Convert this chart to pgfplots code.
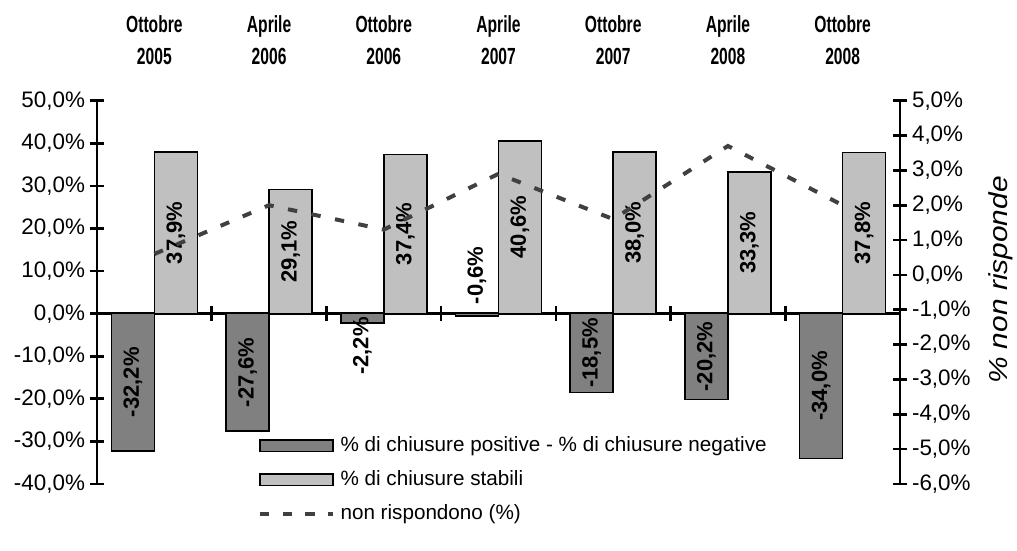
\documentclass[border=0pt]{standalone}
\usepackage{fontspec}
\setmainfont{Liberation Sans}
\newfontfamily\catfont[FakeStretch=0.67]{Liberation Sans}
\newfontfamily\rlabfont[FakeStretch=1.15]{Liberation Sans}
\usepackage{pgfplots}
\pgfplotsset{compat=1.18}
\usepackage{pgfplotstable}
\definecolor{darkbar}{HTML}{808080}
\definecolor{lightbar}{HTML}{C0C0C0}
\definecolor{nrline}{HTML}{404040}
\pgfplotsset{
  barlegend/.style={legend image code/.code={\draw[##1, line width=1.2pt] (0pt,-4.25pt) rectangle (55pt,4.25pt);}},
  linelegend/.style={legend image code/.code={\draw[##1] (0pt,0pt) -- (55pt,0pt);}},
}

\pgfplotstableread{
x neg pos nr ny py
0 -32.2 37.9 0.6 -16.1 18.95
1 -27.6 29.1 2.0 -13.8 14.55
2 -2.2 37.4 1.3 -7.6 18.7
3 -0.6 40.6 2.9 9.0 20.3
4 -18.5 38.0 1.6 -9.25 19.0
5 -20.2 33.3 3.7 -10.1 16.65
6 -34.0 37.8 2.0 -17.0 18.9
}\data

\begin{document}
\begin{tikzpicture}
\pgfplotsset{
  every axis/.append style={
    scale only axis, width=602.25pt, height=287.5pt, xmin=-0.5, xmax=6.5,
    every outer x axis line/.append style={-},
    every outer y axis line/.append style={-},
    every inner x axis line/.append style={-},
    every inner y axis line/.append style={-},
    axis line style={line width=2pt, black},
    tick style={line width=2pt, black},
    tick align=center, major tick length=11pt,
    yticklabel style={font=\fontsize{16.8}{19}\selectfont},
  }
}
\begin{axis}[name=A, ymin=-40, ymax=50, clip=false,
  axis y line*=left, axis x line*=middle,
  xtick={0.5,1.5,...,5.5}, xticklabels={},
  ytick={-40,-30,...,50},
  yticklabels={{-40,0\%},{-30,0\%},{-20,0\%},{-10,0\%},{0,0\%},{10,0\%},{20,0\%},{30,0\%},{40,0\%},{50,0\%}},
  legend style={at={(rel axis cs:0.195,0.135)}, anchor=north west, draw=none, fill=none,
    font=\fontsize{15.5}{18}\selectfont, row sep=9.5pt,
    nodes={inner sep=1pt, text height=11pt, text depth=3pt},
    /tikz/every odd column/.append style={column sep=3pt}},
  legend cell align=left,
]
\addplot[ybar, bar width=32.25pt, bar shift=-16.125pt, fill=darkbar, draw=black, line width=1.2pt, barlegend]
  table[x=x,y=neg]{\data};
\addlegendentry{\% di chiusure positive - \% di chiusure negative}
\addplot[ybar, bar width=32.25pt, bar shift=16.125pt, fill=lightbar, draw=black, line width=1.2pt, barlegend]
  table[x=x,y=pos]{\data};
\addlegendentry{\% di chiusure stabili}
\addlegendimage{nrline, line width=3pt, dash pattern=on 7pt off 10pt, linelegend}
\addlegendentry{non rispondono (\%)}
\addplot[only marks, mark=none, forget plot, point meta=explicit,
  nodes near coords={\pgfmathprintnumber[fixed,fixed zerofill,precision=1,use comma,assume math mode=true]{\pgfplotspointmeta}\%},
  nodes near coords style={rotate=90, anchor=center, font=\fontsize{16.5}{19}\selectfont\bfseries, inner sep=0pt}]
  table[x expr=\thisrow{x}-0.1875, y=ny, meta=neg]{\data};
\addplot[only marks, mark=none, forget plot, point meta=explicit,
  nodes near coords={\pgfmathprintnumber[fixed,fixed zerofill,precision=1,use comma,assume math mode=true]{\pgfplotspointmeta}\%},
  nodes near coords style={rotate=90, anchor=center, font=\fontsize{16.5}{19}\selectfont\bfseries, inner sep=0pt}]
  table[x expr=\thisrow{x}+0.1875, y=py, meta=pos]{\data};
\end{axis}
\begin{axis}[ymin=-6, ymax=5,
  axis y line*=right, axis x line*=top,
  x axis line style={draw=none}, major x tick style={draw=none},
  xtick={0,...,6},
  xticklabels={{Ottobre\\2005},{Aprile\\2006},{Ottobre\\2006},{Aprile\\2007},{Ottobre\\2007},{Aprile\\2008},{Ottobre\\2008}},
  xticklabel style={align=center, font=\catfont\bfseries\fontsize{17.5}{24}\selectfont},
  xticklabel shift=18pt,
  ytick={-6,...,5},
  yticklabels={{-6,0\%},{-5,0\%},{-4,0\%},{-3,0\%},{-2,0\%},{-1,0\%},{0,0\%},{1,0\%},{2,0\%},{3,0\%},{4,0\%},{5,0\%}},
  ylabel={\rlabfont\itshape\fontsize{19.5}{23}\selectfont\% non risponde},
  ylabel style={at={(axis description cs:1.126,0.532)}, anchor=center, inner sep=0pt},
]
\addplot[nrline, line width=3pt, dash pattern=on 7pt off 11pt] table[x=x,y=nr]{\data};
\end{axis}
\path (A.south west) ++(-72.75pt,-49.5pt) rectangle ++(762.75pt,412.5pt);
\end{tikzpicture}
\end{document}
